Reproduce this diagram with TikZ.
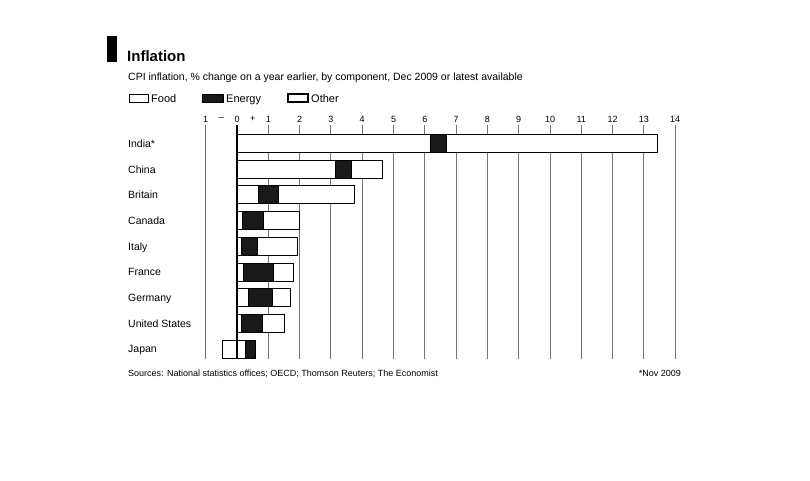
\documentclass[tikz,border=0pt]{standalone}
\usepackage{fontspec}
\setmainfont{Liberation Sans}
\usepackage{tikz}
\tikzset{
  food/.style={draw=black,fill=white,line width=0.9pt},
  energy/.style={draw=black,fill=black!90,line width=0.9pt},
  other/.style={draw=black,fill=white,line width=1pt},
  grid line/.style={draw=black!55,line width=1pt},
  row label/.style={anchor=base west,inner sep=0pt,font=\fontsize{10.5}{12}\selectfont},
  tick label/.style={inner sep=0pt,font=\fontsize{9}{10}\selectfont},
  key label/.style={anchor=base west,inner sep=0pt,font=\fontsize{11}{12}\selectfont}
}
\begin{document}
\begin{tikzpicture}[x=1pt,y=-1pt]
  \useasboundingbox (0,0) rectangle (810,480);

  % heading
  \fill (107,36) rectangle (117,62);
  \node[anchor=base west,inner sep=0pt,font=\bfseries\fontsize{15}{18}\selectfont] (title) at (127,61) {Inflation};
  \node[anchor=base west,inner sep=0pt,font=\fontsize{10.5}{12}\selectfont] (subtitle) at (128,80)
    {CPI inflation, \% change on a year earlier, by component, Dec 2009 or latest available};

  % key
  \draw[food]   (129,94) rectangle (148,102);
  \node[key label] (keyfood)   at (151,102) {Food};
  \draw[energy] (202,94) rectangle (223,102);
  \node[key label] (keyenergy) at (226,102) {Energy};
  \draw[other,line width=1.6pt]  (288,94) rectangle (308,102);
  \node[key label] (keyother)  at (311,102) {Other};

  % countries
  \foreach \name/\lab/\yc in {india/India*/147.3,china/China/173,britain/Britain/198.7,
      canada/Canada/224.4,italy/Italy/250.1,france/France/275.8,germany/Germany/301.5,
      usa/United States/327.2,japan/Japan/352.9}
    \node[row label] (\name) at (128,\yc) {\lab};

  \begin{scope}[x=31.3pt,shift={(237pt,0pt)}]
    % scale
    \foreach \v in {-1,0,...,14}
      \draw[grid line] (\v,125) -- (\v,359);
    \foreach \v in {1,...,14}
      \node[tick label] (tick\v) at (\v,119) {\v};
    \node[tick label] (tickneg) at (-1,119) {1};
    \node[tick label] (minus)   at (-0.5,119) {--};
    \node[tick label] (tickzero) at (0,119) {0};
    \node[tick label] (plus)    at (0.5,119) {+};

    % bars: food, energy, other
    \foreach \yc/\f/\e/\o in {143.5/6.17/6.68/13.45,169.2/3.16/3.67/4.66,194.9/0.67/1.34/3.76,
        220.6/0.17/0.86/2.0,246.3/0.15/0.67/1.92,272/0.2/1.18/1.79,297.7/0.38/1.15/1.72,
        323.4/0.13/0.83/1.53}
    {
      \draw[food]   (0,\yc-9) rectangle (\f,\yc+9);
      \draw[energy] (\f,\yc-9) rectangle (\e,\yc+9);
      \draw[other]  (\e,\yc-9) rectangle (\o,\yc+9);
    }
    \draw[food]   (-0.48,340.1) rectangle (0,358.1);
    \draw[other]  (0,340.1) rectangle (0.28,358.1);
    \draw[energy] (0.28,340.1) rectangle (0.6,358.1);

    \draw[black,line width=1.2pt] (0,125) -- (0,359);
  \end{scope}

  % sources
  \node[anchor=base west,inner sep=0pt,font=\fontsize{9}{10}\selectfont] (sources) at (128,376)
    {Sources: National statistics offices; OECD; Thomson Reuters; The Economist};
  \node[anchor=base east,inner sep=0pt,font=\fontsize{9}{10}\selectfont] (note) at (681,376) {*Nov 2009};
\end{tikzpicture}
\end{document}
